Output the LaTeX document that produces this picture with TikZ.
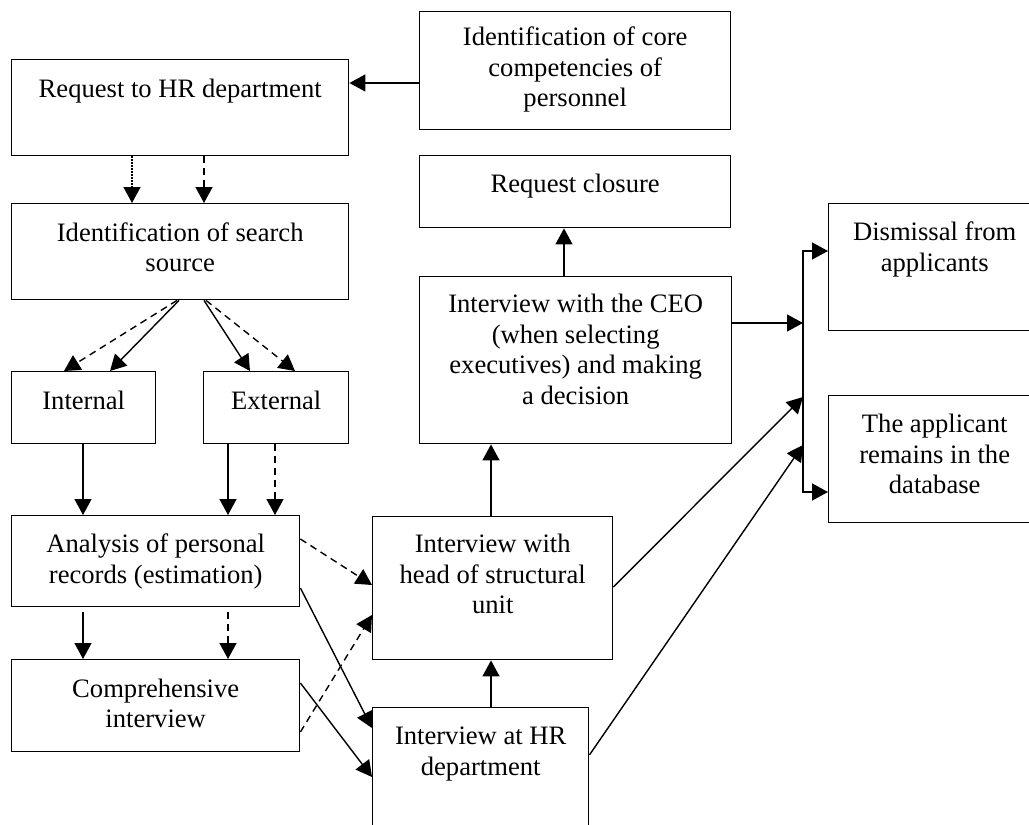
\documentclass[tikz,border=0pt]{standalone}
\usepackage{fontspec}
\setmainfont{Liberation Serif}
\usetikzlibrary{arrows.meta}

\begin{document}
\begin{tikzpicture}[x=1pt,y=-1pt,
  line width=1.4pt,
  box/.style={draw,rectangle,inner sep=0pt,anchor=north west},
  txt/.style={anchor=north,inner sep=0pt,align=center,
    font=\fontsize{26.6}{30.6}\selectfont},
  arr/.style={-{Triangle[length=16pt,width=17pt]}},
  dsh/.style={arr,dash pattern=on 7pt off 5pt},
  dot/.style={arr,dash pattern=on 1.2pt off 1.8pt}]

\useasboundingbox (0,0) rectangle (1029,825);
\clip (0,0) rectangle (1029,825);

% boxes: name, top-left corner, width, height
\newcommand{\stepbox}[5]{%
  \node[box,minimum width=#4pt,minimum height=#5pt] (#1) at (#2,#3) {};}
\stepbox{req}{11}{59}{337}{96}
\stepbox{core}{419}{11}{311}{118}
\stepbox{close}{419}{155}{311}{72}
\stepbox{src}{11}{203}{337}{96}
\stepbox{ceo}{419}{276}{312}{167}
\stepbox{dism}{828}{203}{212}{127}
\stepbox{appl}{828}{395}{212}{127}
\stepbox{int}{11}{371}{144}{72}
\stepbox{ext}{203}{371}{145}{72}
\stepbox{ana}{11}{515}{288}{91}
\stepbox{head}{372}{516}{240}{143}
\stepbox{comp}{11}{659}{288}{92}
\stepbox{hr}{372}{707}{216}{150}

% box texts, set from the top edge
\node[txt] (req-t)   at ([yshift=-16pt]req.north)   {\strut Request to HR department};
\node[txt] (core-t)  at ([yshift=-12.6pt]core.north) {\strut Identification of core\\competencies of\\personnel};
\node[txt] (close-t) at ([yshift=-15.6pt]close.north) {\strut Request closure};
\node[txt] (src-t)   at ([yshift=-16pt]src.north)   {\strut Identification of search\\source};
\node[txt] (ceo-t)   at ([yshift=-14.6pt]ceo.north)  {\strut Interview with the CEO\\(when selecting\\executives) and making\\a decision};
\node[txt] (dism-t)  at ([yshift=-15.6pt]dism.north) {\strut Dismissal from\\applicants};
\node[txt] (appl-t)  at ([yshift=-15.6pt]appl.north) {\strut The applicant\\remains in the\\database};
\node[txt] (int-t)   at ([yshift=-16pt]int.north)   {\strut Internal};
\node[txt] (ext-t)   at ([yshift=-16pt]ext.north)   {\strut External};
\node[txt] (ana-t)   at ([yshift=-15.6pt]ana.north)  {\strut Analysis of personal\\records (estimation)};
\node[txt] (head-t)  at ([yshift=-14.6pt]head.north) {\strut Interview with\\head of structural\\unit};
\node[txt] (comp-t)  at ([yshift=-16pt]comp.north)  {\strut Comprehensive\\interview};
\node[txt] (hr-t)    at ([yshift=-15.6pt]hr.north)   {\strut Interview at HR\\department};

% junction bar in front of the two outcome boxes
\coordinate (bartop) at (803,251);
\coordinate (barmid) at (803,323);
\coordinate (barhd)  at (803,397);
\coordinate (barhr)  at (803,445);
\coordinate (barbot) at (803,492);

% top part
\draw[arr] (core.west |- 0,83) -- (req.east |- 0,83);
\draw[dot] (req.south -| 132,0) -- (src.north -| 132,0);
\draw[dsh] (req.south -| 204,0) -- (src.north -| 204,0);

% search sources
\draw[arr] (src.south -| 179,0) -- (int.north -| 110,0);
\draw[dsh] (src.south -| 177,0) -- (int.north -| 64,0);
\draw[arr] (src.south -| 204,0) -- (ext.north -| 250,0);
\draw[dsh] (src.south -| 206,0) -- (ext.north -| 295,0);

% into analysis
\draw[arr] (int.south -| 83,0) -- (ana.north -| 83,0);
\draw[arr] (ext.south -| 228,0) -- (ana.north -| 228,0);
\draw[dsh] (ext.south -| 275,0) -- (ana.north -| 275,0);

% analysis onwards
\draw[arr,shorten <=5pt] (ana.south -| 83,0) -- (comp.north -| 83,0);
\draw[dsh,shorten <=5pt] (ana.south -| 228,0) -- (comp.north -| 228,0);
\draw[dsh] (ana.east |- 0,539) -- (head.west |- 0,585);
\draw[arr] (ana.east |- 0,588) -- (hr.west |- 0,728);
\draw[arr] (comp.east |- 0,683) -- (hr.west |- 0,777);
\draw[dsh] (comp.east |- 0,732) -- (head.west |- 0,615);

% interview chain
\draw[arr] (hr.north -| 491,0) -- (head.south -| 491,0);
\draw[arr] (head.north -| 491,0) -- (ceo.south -| 491,0);
\draw[arr] (ceo.north -| 564,0) -- (close.south -| 564,0);

% outcomes
\draw[arr] (ceo.east |- barmid) -- (barmid);
\draw[arr] (head.east |- 0,587) -- (barhd);
\draw[arr] (hr.east |- 0,755) -- (barhr);
\draw[{Triangle[length=16pt,width=17pt]}-{Triangle[length=16pt,width=17pt]}]
  (dism.west |- bartop) -- (bartop) -- (barbot) -- (appl.west |- barbot);

\end{tikzpicture}
\end{document}
